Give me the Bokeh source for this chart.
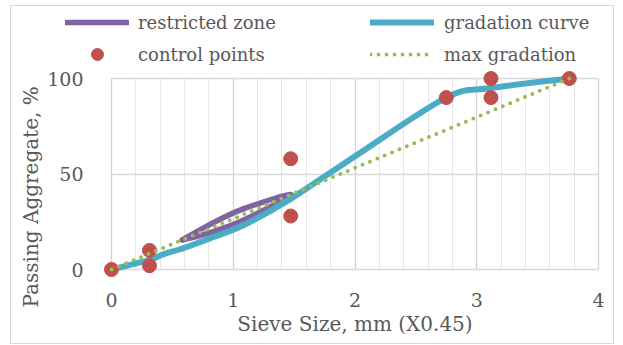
from bokeh.plotting import figure
from bokeh.layouts import column
from bokeh.models import (Range1d, FixedTicker, Legend, LegendItem,
                          ColumnDataSource, Title)
from bokeh.embed import file_html
from bokeh.resources import INLINE

# ---- data (sieve size^0.45 vs % passing) ----
grad_x = [0, 0.312, 0.426, 0.582, 0.795, 1.077, 1.472, 2.016, 2.75, 3.117, 3.76]
grad_y = [0, 5, 8, 11, 16, 23, 37, 60, 90, 95, 100]

rz_x = [0.582, 0.795, 1.077, 1.472, 1.077, 0.795, 0.582]
rz_y = [15.5, 19.1, 25.6, 39.1, 31.6, 23.1, 15.5]

cp_x = [0, 0.312, 0.312, 1.472, 1.472, 2.75, 3.117, 3.117, 3.76]
cp_y = [0, 2, 10, 28, 58, 90, 90, 100, 100]

max_x = [0, 3.76]
max_y = [0, 100]

x_ticks = [0, 1, 2, 3, 4]
x_minor = [0.2, 0.4, 0.6, 0.8, 1.2, 1.4, 1.6, 1.8, 2.2, 2.4, 2.6, 2.8,
           3.2, 3.4, 3.6, 3.8]
y_ticks = [0, 50, 100]

FONT = "DejaVu Serif"
TXT = "#595959"
C_RZ, C_GR, C_CP, C_MX = "#8064A2", "#4BACC6", "#C0504D", "#9BBB59"


def smooth_source(xs, ys):
    """Excel-like smoothed line: cubic Bezier segments through the points."""
    n = len(xs)
    d = dict(x0=[], y0=[], x1=[], y1=[], cx0=[], cy0=[], cx1=[], cy1=[])
    for i in range(n - 1):
        a = i - 1 if i > 0 else i
        b = i + 2 if i + 2 < n else i + 1
        d["x0"].append(xs[i]); d["y0"].append(ys[i])
        d["x1"].append(xs[i + 1]); d["y1"].append(ys[i + 1])
        d["cx0"].append(xs[i] + (xs[i + 1] - xs[a]) / 6.0)
        d["cy0"].append(ys[i] + (ys[i + 1] - ys[a]) / 6.0)
        d["cx1"].append(xs[i + 1] - (xs[b] - xs[i]) / 6.0)
        d["cy1"].append(ys[i + 1] - (ys[b] - ys[i]) / 6.0)
    return ColumnDataSource(d)


# pixel scale of the plot area (units -> px) and padding so markers are not clipped
PXX = 121.75
PXY = 1.91
PADX = 12
PADY = 10
W = 602

# ---------------- main chart ----------------
p = figure(width=W, height=277, output_backend="svg", toolbar_location=None,
           x_range=Range1d(-PADX / PXX, 4 + PADX / PXX),
           y_range=Range1d(-PADY / PXY, 100 + PADY / PXY),
           min_border_left=88, min_border_right=3,
           min_border_top=2, min_border_bottom=64)
p.outline_line_color = None
p.background_fill_color = "white"
p.border_fill_color = "white"

# grid
p.xgrid.ticker = FixedTicker(ticks=x_ticks, minor_ticks=x_minor)
p.xgrid.grid_line_color = "#d4d4d4"
p.xgrid.grid_line_width = 1.3
p.xgrid.minor_grid_line_color = "#e6e6e6"
p.xgrid.minor_grid_line_width = 1
p.ygrid.ticker = FixedTicker(ticks=y_ticks)
p.ygrid.grid_line_color = "#d9d9d9"
p.ygrid.grid_line_width = 1.3
try:
    p.xgrid.cross_bounds = (0, 100)
    p.ygrid.cross_bounds = (0, 4)
except Exception:
    pass

# axes
for ax in (p.xaxis[0], p.yaxis[0]):
    ax.axis_line_color = None
    ax.major_tick_line_color = None
    ax.minor_tick_line_color = None
    ax.major_label_text_font = FONT
    ax.major_label_text_font_size = "19px"
    ax.major_label_text_color = TXT
    ax.axis_label_text_font = FONT
    ax.axis_label_text_font_size = "20px"
    ax.axis_label_text_font_style = "normal"
    ax.axis_label_text_color = TXT
p.xaxis.ticker = FixedTicker(ticks=x_ticks)
p.yaxis.ticker = FixedTicker(ticks=y_ticks)
p.xaxis.axis_label = "Sieve Size, mm (X0.45)"
p.xaxis.major_label_standoff = 7
p.xaxis.axis_label_standoff = 2
p.yaxis.major_label_standoff = 10

# y-axis title, placed as a side title so it can be offset along the axis
ytitle = Title(text="Passing Aggregate, %", align="left", offset=-28,
               standoff=4, text_font=FONT, text_font_size="20px",
               text_font_style="normal", text_color=TXT)
p.add_layout(ytitle, "left")

# series
p.bezier(x0="x0", y0="y0", x1="x1", y1="y1", cx0="cx0", cy0="cy0",
         cx1="cx1", cy1="cy1", source=smooth_source(rz_x, rz_y),
         line_color=C_RZ, line_width=5.5, line_cap="round")
p.bezier(x0="x0", y0="y0", x1="x1", y1="y1", cx0="cx0", cy0="cy0",
         cx1="cx1", cy1="cy1", source=smooth_source(grad_x, grad_y),
         line_color=C_GR, line_width=6, line_cap="round")
p.scatter(cp_x, cp_y, size=14, marker="circle", fill_color=C_CP, line_color=C_CP)
p.line(max_x, max_y, line_color=C_MX, line_width=4, line_dash="0 8", line_cap="round")

# ---------------- legend strip (above the chart) ----------------
# its ranges lie outside the data, so only the legend itself is visible
lg = figure(width=W, height=60, output_backend="svg", toolbar_location=None,
            x_range=Range1d(-3, -2), y_range=Range1d(-3, -2),
            x_axis_location=None, y_axis_location=None,
            min_border=0, min_border_left=0, min_border_right=0,
            min_border_top=0, min_border_bottom=0)
lg.outline_line_color = None
lg.grid.visible = False
lg.background_fill_color = "white"
lg.border_fill_color = "white"
for f in (lg, p):
    try:
        f.frame_align = False
    except Exception:
        pass

k_rz = lg.line(rz_x, rz_y, line_color=C_RZ, line_width=5.5, line_cap="round")
k_gr = lg.line(grad_x, grad_y, line_color=C_GR, line_width=6, line_cap="round")
k_cp = lg.scatter(cp_x, cp_y, size=14, marker="circle", fill_color=C_CP,
                  line_color=C_CP)
k_mx = lg.line(max_x, max_y, line_color=C_MX, line_width=4, line_dash="0 8",
               line_cap="round")

legend_kw = dict(glyph_height=30, glyph_width=64, spacing=2, padding=0,
                 margin=0, border_line_color=None, background_fill_alpha=0,
                 label_text_font=FONT, label_text_font_size="18px",
                 label_text_color=TXT)
leg1 = Legend(items=[LegendItem(label="restricted zone", renderers=[k_rz]),
                     LegendItem(label="control points", renderers=[k_cp])],
              location=(54, -3), label_standoff=9, **legend_kw)
leg2 = Legend(items=[LegendItem(label="gradation curve", renderers=[k_gr]),
                     LegendItem(label="max gradation", renderers=[k_mx])],
              location=(359, -3), label_standoff=10, **legend_kw)
lg.add_layout(leg1)
lg.add_layout(leg2)

layout = column(lg, p, spacing=0, margin=(6, 0, 0, 11),
                styles={"outline": "1px solid #d9d9d9"})
open("out.html", "w").write(file_html(layout, INLINE))
